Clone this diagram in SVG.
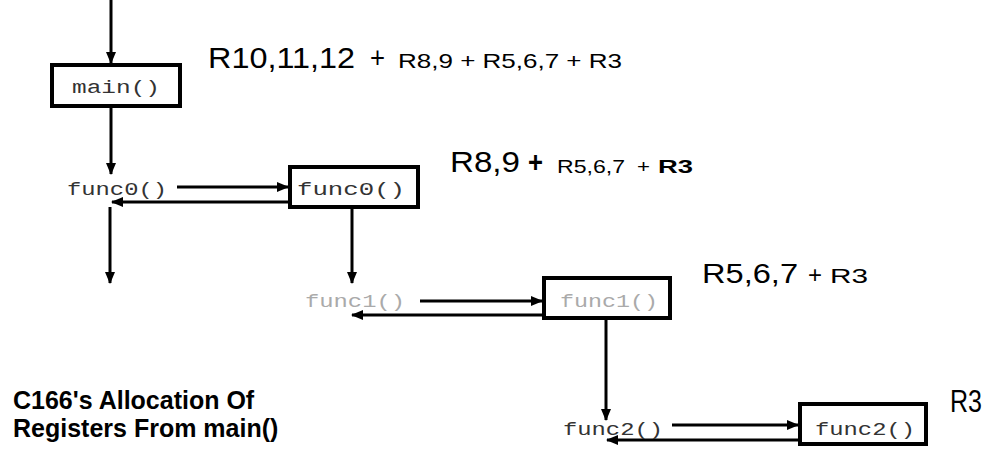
<svg xmlns="http://www.w3.org/2000/svg" width="995" height="457" viewBox="0 0 995 457">
<style>
.box{fill:#fff;stroke:#000;stroke-width:4}
.ln{stroke:#000;stroke-width:3;fill:none;marker-end:url(#ah)}
.mono{font-family:"Liberation Mono","Courier New",monospace;font-size:19px;fill:#333}
.faint{fill:#aaa}
.sans{font-family:"Liberation Sans",Arial,sans-serif;fill:#000}
.title{font-family:"Liberation Sans",Arial,sans-serif;font-weight:bold;font-size:25px;fill:#000}
</style>
<defs>
<marker id="ah" viewBox="0 0 12 10" refX="11" refY="5" markerWidth="12" markerHeight="10" markerUnits="userSpaceOnUse" orient="auto"><path d="M0,0 L12,5 L0,10 z" fill="#000"/></marker>
</defs>
<rect width="995" height="457" fill="#fff"/>
<g id="connectors">
<line class="ln" x1="111" y1="0" x2="111" y2="63"/>
<line class="ln" x1="111" y1="108" x2="111" y2="174"/>
<line class="ln" x1="177" y1="187" x2="288" y2="187"/>
<line class="ln" x1="288" y1="202" x2="112" y2="202"/>
<line class="ln" x1="110" y1="207" x2="110" y2="283"/>
<line class="ln" x1="352" y1="209" x2="352" y2="283"/>
<line class="ln" x1="420" y1="301" x2="542" y2="301"/>
<line class="ln" x1="542" y1="315" x2="352" y2="315"/>
<line class="ln" x1="606" y1="320" x2="606" y2="420"/>
<line class="ln" x1="672" y1="425" x2="798" y2="425"/>
<line class="ln" x1="798" y1="440" x2="607" y2="440"/>
</g>
<g id="main">
<rect class="box" x="52" y="65" width="128" height="41"/>
<text class="mono" x="72" y="93" textLength="88" lengthAdjust="spacingAndGlyphs">main()</text>
</g>
<g id="func0-call">
<text class="mono" x="67" y="195" textLength="100" lengthAdjust="spacingAndGlyphs">func0()</text>
</g>
<g id="func0">
<rect class="box" x="290" y="167" width="128" height="40"/>
<text class="mono" x="297" y="195" textLength="108" lengthAdjust="spacingAndGlyphs">func0()</text>
</g>
<g id="func1-call">
<text class="mono faint" x="305" y="307" textLength="100" lengthAdjust="spacingAndGlyphs">func1()</text>
</g>
<g id="func1">
<rect class="box" x="544" y="278" width="126" height="40"/>
<text class="mono faint" x="560" y="307" textLength="98" lengthAdjust="spacingAndGlyphs">func1()</text>
</g>
<g id="func2-call">
<text class="mono" x="563" y="435" textLength="100" lengthAdjust="spacingAndGlyphs">func2()</text>
</g>
<g id="func2">
<rect class="box" x="800" y="404" width="126" height="40"/>
<text class="mono" x="815" y="435" textLength="100" lengthAdjust="spacingAndGlyphs">func2()</text>
</g>
<g id="reg-main">
<text class="sans" x="208" y="68" font-size="29" textLength="147" lengthAdjust="spacingAndGlyphs">R10,11,12</text>
<text class="sans" x="370" y="68" font-size="29" textLength="15" lengthAdjust="spacingAndGlyphs">+</text>
<text class="sans" x="398" y="68" font-size="21" textLength="224" lengthAdjust="spacingAndGlyphs">R8,9 + R5,6,7 + R3</text>
</g>
<g id="reg-func0">
<text class="sans" x="450" y="172" font-size="30" textLength="70" lengthAdjust="spacingAndGlyphs">R8,9</text>
<text class="sans" x="528" y="172" font-size="30" font-weight="bold" textLength="15" lengthAdjust="spacingAndGlyphs">+</text>
<text class="sans" x="557" y="173" font-size="18" textLength="68" lengthAdjust="spacingAndGlyphs">R5,6,7</text>
<text class="sans" x="637" y="173" font-size="18" textLength="13" lengthAdjust="spacingAndGlyphs">+</text>
<text class="sans" x="658" y="173" font-size="18" font-weight="bold" textLength="35" lengthAdjust="spacingAndGlyphs">R3</text>
</g>
<g id="reg-func1">
<text class="sans" x="702" y="283" font-size="28" textLength="96" lengthAdjust="spacingAndGlyphs">R5,6,7</text>
<text class="sans" x="808" y="283" font-size="24" textLength="14" lengthAdjust="spacingAndGlyphs">+</text>
<text class="sans" x="830" y="283" font-size="20" textLength="38" lengthAdjust="spacingAndGlyphs">R3</text>
</g>
<g id="reg-func2">
<text class="sans" x="950" y="412" font-size="31" textLength="32" lengthAdjust="spacingAndGlyphs">R3</text>
</g>
<g id="title">
<text class="title" x="13" y="409">C166's Allocation Of</text>
<text class="title" x="13" y="437">Registers From main()</text>
</g>
</svg>
